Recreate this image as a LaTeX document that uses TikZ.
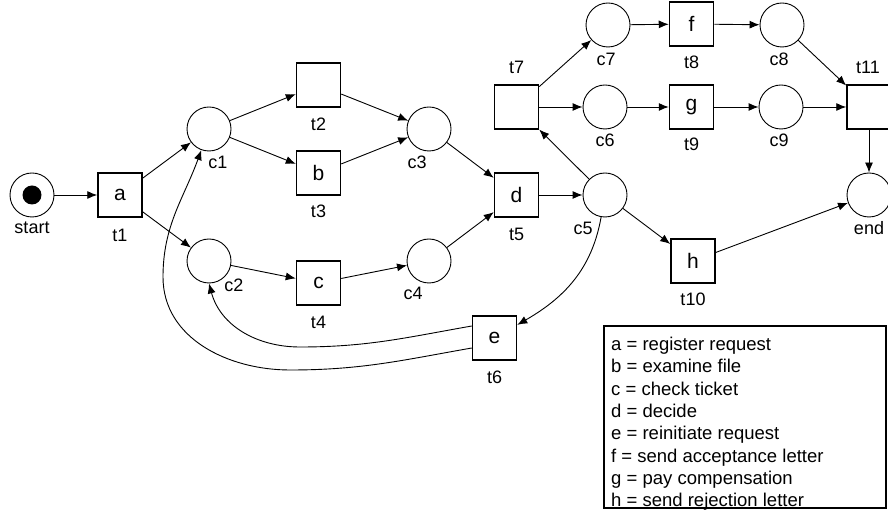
\documentclass[tikz,border=0pt]{standalone}
\usepackage{fontspec}
\setmainfont{Liberation Sans}
\usetikzlibrary{arrows.meta}
\begin{document}
\begin{tikzpicture}[x=1pt,y=1pt,
  place/.style={circle,draw,line width=0.9pt,minimum size=44pt,inner sep=0pt},
  trans/.style={rectangle,draw,line width=1.5pt,minimum size=44pt,inner sep=0pt,font=\fontsize{21}{21}\selectfont},
  lbl/.style={font=\fontsize{18}{18}\selectfont,inner sep=0pt},
  legtxt/.style={font=\fontsize{18.5}{18.5}\selectfont,inner sep=0pt,anchor=base west},
  arc/.style={-{Latex[length=10pt,width=8pt]},line width=0.9pt}]
\useasboundingbox (0,0) rectangle (888,519);
\clip (0,0) rectangle (888,519);
% places and transitions
\node[place] (start) at (32,324) {};
\fill (start.center) circle (9.5pt);
\node[lbl] (lstart) at (32,291) {start};
\node[trans] (t1) at (120,324) {a};
\node[lbl] (lt1) at (120,284) {t1};
\node[place] (c1) at (209,390) {};
\node[lbl] (lc1) at (218,357) {c1};
\node[trans] (t2) at (318.5,434) {};
\node[lbl] (lt2) at (318.5,395) {t2};
\node[trans] (t3) at (318.5,346) {b};
\node[lbl] (lt3) at (318.5,308) {t3};
\node[place] (c3) at (429,390) {};
\node[lbl] (lc3) at (417,357) {c3};
\node[place] (c2) at (209,258) {};
\node[lbl] (lc2) at (234,234) {c2};
\node[trans] (t4) at (318.5,236) {c};
\node[lbl] (lt4) at (318.5,197) {t4};
\node[place] (c4) at (429,258) {};
\node[lbl] (lc4) at (413,226) {c4};
\node[trans] (t5) at (516.5,324) {d};
\node[lbl] (lt5) at (516.5,285) {t5};
\node[place] (c5) at (605,324) {};
\node[lbl] (lc5) at (583,291) {c5};
\node[trans] (t6) at (494.5,181) {e};
\node[lbl] (lt6) at (494.5,142) {t6};
\node[trans] (t7) at (516.5,412) {};
\node[lbl] (lt7) at (516.5,452) {t7};
\node[place] (c7) at (608,494) {};
\node[lbl] (lc7) at (606,460) {c7};
\node[trans] (t8) at (691.5,495) {f};
\node[lbl] (lt8) at (691.5,457) {t8};
\node[place] (c8) at (782,494) {};
\node[lbl] (lc8) at (779,460) {c8};
\node[trans] (t11) at (869,412) {};
\node[lbl] (lt11) at (868,452) {t11};
\node[place] (c6) at (605,412) {};
\node[lbl] (lc6) at (605,379) {c6};
\node[trans] (t9) at (691.5,412) {g};
\node[lbl] (lt9) at (691.5,375) {t9};
\node[place] (c9) at (781,412) {};
\node[lbl] (lc9) at (779,379) {c9};
\node[trans] (t10) at (693,258) {h};
\node[lbl] (lt10) at (693,220) {t10};
\node[place] (pend) at (869,324) {};
\node[lbl] (lend) at (869,291) {end};
% arcs
\draw[arc] (start) -- (t1);
\draw[arc] (t1) -- (c1);
\draw[arc] (t1) -- (c2);
\draw[arc] (c1) -- (t2);
\draw[arc] (c1) -- (t3);
\draw[arc] (t2) -- (c3);
\draw[arc] (t3) -- (c3);
\draw[arc] (c2) -- (t4);
\draw[arc] (t4) -- (c4);
\draw[arc] (c3) -- (t5);
\draw[arc] (c4) -- (t5);
\draw[arc] (t5) -- (c5);
\draw[arc] (c5) -- (t7);
\draw[arc] (t7) -- (c7);
\draw[arc] (t7) -- (c6);
\draw[arc] (c7) -- (t8);
\draw[arc] (t8) -- (c8);
\draw[arc] (c8) -- (t11);
\draw[arc] (c6) -- (t9);
\draw[arc] (t9) -- (c9);
\draw[arc] (c9) -- (t11);
\draw[arc] (t11) -- (pend);
\draw[arc] (c5) -- (t10);
\draw[arc] (t10) -- (pend);
\draw[arc] (c5) to[out=-100,in=30] (t6);
\draw[arc] ([yshift=12pt]t6.west) to[out=190,in=0] (300,172) to[out=180,in=-75] (c2.south);
\draw[arc] ([yshift=-10pt]t6.west) to[out=190,in=0] (290,149) to[out=180,in=-90] (163,242) to[out=90,in=-110] (c1);
% legend
\draw[line width=1.5pt] (604,11) rectangle (886,193);
\node[legtxt] (leg1) at (611,168.3) {a = register request};
\node[legtxt] (leg2) at (611,146.0) {b = examine file};
\node[legtxt] (leg3) at (611,123.7) {c = check ticket};
\node[legtxt] (leg4) at (611,101.4) {d = decide};
\node[legtxt] (leg5) at (611,79.1) {e = reinitiate request};
\node[legtxt] (leg6) at (611,56.8) {f = send acceptance letter};
\node[legtxt] (leg7) at (611,34.5) {g = pay compensation};
\node[legtxt] (leg8) at (611,12.3) {h = send rejection letter};
\end{tikzpicture}
\end{document}
